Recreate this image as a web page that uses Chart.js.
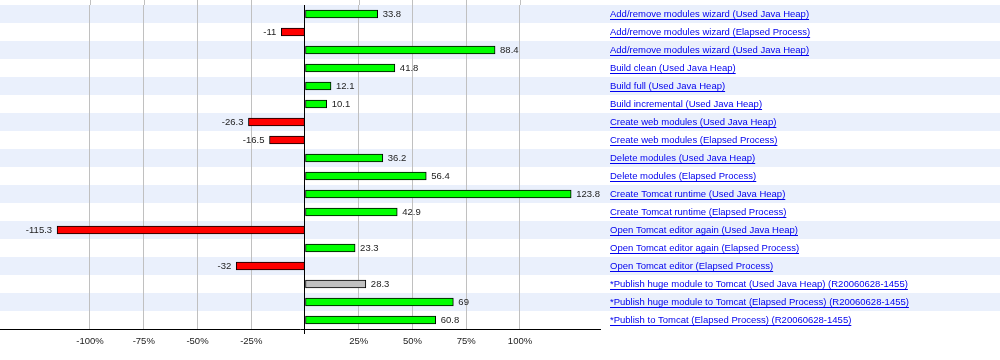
<!DOCTYPE html>
<html>
<head>
<meta charset="utf-8">
<script src="https://cdn.jsdelivr.net/npm/chart.js@4/dist/chart.umd.min.js"></script>
<style>
  html, body { margin: 0; padding: 0; background: #fff; }
  #wrap { width: 1000px; height: 360px; }
</style>
</head>
<body>
<div id="wrap"><canvas id="c" width="1000" height="360"></canvas></div>
<script>
const categories = [
  'Add/remove modules wizard (Used Java Heap)',
  'Add/remove modules wizard (Elapsed Process)',
  'Add/remove modules wizard (Used Java Heap) ',
  'Build clean (Used Java Heap)',
  'Build full (Used Java Heap)',
  'Build incremental (Used Java Heap)',
  'Create web modules (Used Java Heap)',
  'Create web modules (Elapsed Process)',
  'Delete modules (Used Java Heap)',
  'Delete modules (Elapsed Process)',
  'Create Tomcat runtime (Used Java Heap)',
  'Create Tomcat runtime (Elapsed Process)',
  'Open Tomcat editor again (Used Java Heap)',
  'Open Tomcat editor again (Elapsed Process)',
  'Open Tomcat editor (Elapsed Process)',
  '*Publish huge module to Tomcat (Used Java Heap) (R20060628-1455)',
  '*Publish huge module to Tomcat (Elapsed Process) (R20060628-1455)',
  '*Publish to Tomcat (Elapsed Process) (R20060628-1455)'
];
const values = [33.8, -11, 88.4, 41.8, 12.1, 10.1, -26.3, -16.5, 36.2, 56.4, 123.8, 42.9, -115.3, 23.3, -32, 28.3, 69, 60.8];
const significant = [true, true, true, true, true, true, true, true, true, true, true, true, true, true, true, false, true, true];
const tickValues = [-100, -75, -50, -25, 0, 25, 50, 75, 100];

const FONT = '"Liberation Sans", Arial, sans-serif';
const FS = 9.5;
const LINK = '#0000ee';

const barColors = values.map((v, i) => !significant[i] ? '#c0c0c0' : (v < 0 ? '#ff0000' : '#00ff00'));

const bandPlugin = {
  id: 'bands',
  beforeDraw(chart) {
    const { ctx, chartArea } = chart;
    const y = chart.scales.y;
    ctx.save();
    ctx.fillStyle = '#ffffff';
    ctx.fillRect(0, 0, chart.width, chart.height);
    const step = (chartArea.bottom - chartArea.top) / categories.length;
    ctx.fillStyle = '#eaf0fc';
    for (let i = 0; i < categories.length; i += 2) {
      const cy = y.getPixelForValue(i);
      ctx.fillRect(0, cy - step / 2, chart.width, step);
    }
    // extend grey gridlines up to the top edge
    const x = chart.scales.x;
    ctx.strokeStyle = '#c0c0c0';
    ctx.lineWidth = 1;
    tickValues.forEach(v => {
      if (v === 0) return;
      const px = Math.round(x.getPixelForValue(v)) + 0.5;
      ctx.beginPath();
      ctx.moveTo(px, 0);
      ctx.lineTo(px, chartArea.top);
      ctx.stroke();
    });
    ctx.restore();
  }
};

const valuePlugin = {
  id: 'values',
  afterDatasetsDraw(chart) {
    const { ctx } = chart;
    const meta = chart.getDatasetMeta(0);
    ctx.save();
    ctx.font = FS + 'px ' + FONT;
    ctx.fillStyle = '#222222';
    ctx.textBaseline = 'middle';
    meta.data.forEach((el, i) => {
      const v = values[i];
      const txt = String(v);
      if (v >= 0) {
        ctx.textAlign = 'left';
        ctx.fillText(txt, el.x + 5, el.y);
      } else {
        ctx.textAlign = 'right';
        ctx.fillText(txt, el.x - 5, el.y);
      }
    });
    ctx.restore();
  }
};

const underlinePlugin = {
  id: 'underline',
  afterDraw(chart) {
    const { ctx } = chart;
    const y = chart.scales.y;
    ctx.save();
    ctx.font = FS + 'px ' + FONT;
    ctx.strokeStyle = LINK;
    ctx.lineWidth = 1;
    const x0 = y.left + 10;
    categories.forEach((lab, i) => {
      const w = ctx.measureText(lab.trim()).width;
      const py = Math.round(y.getPixelForValue(i)) + 5.5;
      ctx.beginPath();
      ctx.moveTo(x0, py);
      ctx.lineTo(x0 + w, py);
      ctx.stroke();
    });
    ctx.restore();
  }
};

new Chart(document.getElementById('c'), {
  type: 'bar',
  data: {
    labels: categories,
    datasets: [{
      data: values,
      backgroundColor: barColors,
      borderColor: '#000000',
      borderWidth: 1,
      borderSkipped: false,
      barThickness: 8
    }]
  },
  plugins: [bandPlugin, valuePlugin, underlinePlugin],
  options: {
    indexAxis: 'y',
    responsive: false,
    animation: false,
    devicePixelRatio: 1,
    layout: { padding: { top: 5, left: 0, right: 0, bottom: 0 } },
    plugins: { legend: { display: false }, tooltip: { enabled: false } },
    scales: {
      x: {
        type: 'linear',
        min: -141.86,
        max: 137.21,
        afterBuildTicks(scale) { scale.ticks = tickValues.map(v => ({ value: v })); },
        afterFit(scale) { scale.height = 31; scale.paddingLeft = 0; scale.paddingRight = 0; },
        grid: {
          color: c => (c.tick && c.tick.value === 0) ? '#000000' : '#c0c0c0',
          lineWidth: 1,
          drawTicks: true,
          tickLength: 5,
          tickColor: c => (c.tick && c.tick.value === 0) ? '#000000' : 'rgba(0,0,0,0)'
        },
        border: { display: true, color: '#000000', width: 1 },
        ticks: {
          autoSkip: false,
          maxRotation: 0,
          padding: 2,
          color: '#222222',
          font: { family: FONT, size: FS },
          callback: v => v === 0 ? '' : v + '%'
        }
      },
      y: {
        type: 'category',
        position: 'right',
        afterFit(scale) { scale.width = 400; scale.paddingTop = 0; scale.paddingBottom = 0; },
        grid: { display: false, drawTicks: false },
        border: { display: false },
        ticks: {
          padding: 10,
          color: LINK,
          font: { family: FONT, size: FS },
          callback(v, i) { return categories[i].trim(); }
        }
      }
    }
  }
});
</script>
</body>
</html>
